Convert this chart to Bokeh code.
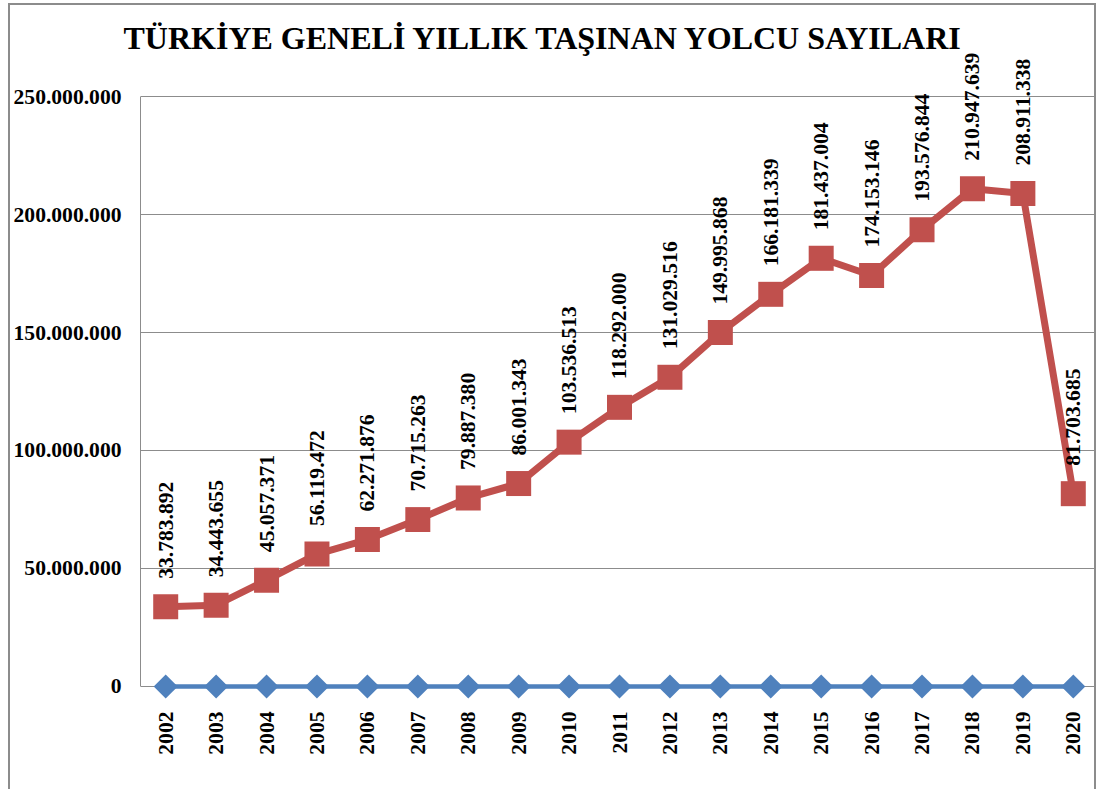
from math import pi
from bokeh.plotting import figure
from bokeh.models import Range1d, FixedTicker, ColumnDataSource, LabelSet
from bokeh.embed import file_html
from bokeh.resources import INLINE

years = ["2002", "2003", "2004", "2005", "2006", "2007", "2008", "2009", "2010", "2011",
         "2012", "2013", "2014", "2015", "2016", "2017", "2018", "2019", "2020"]
passengers = [33783892, 34443655, 45057371, 56119472, 62271876, 70715263, 79887380,
              86001343, 103536513, 118292000, 131029516, 149995868, 166181339,
              181437004, 174153146, 193576844, 210947639, 208911338, 81703685]
series2 = [0, 0, 0, 0, 0, 0, 0, 0, 0, 0, 0, 0, 0, 0, 0, 0, 0, 0, 0]
y_ticks = [0, 50000000, 100000000, 150000000, 200000000, 250000000]
title_text = "TÜRKİYE GENELİ YILLIK TAŞINAN YOLCU SAYILARI"

RED = "#C0504D"
BLUE = "#4F81BD"
GRID = "#8c8c8c"
FONT = "Liberation Serif"


def fmt(v):
    return f"{v:,}".replace(",", ".")


xs = list(range(len(years)))
src = ColumnDataSource(dict(x=xs, y=passengers, label=[fmt(v) for v in passengers],
                            z=series2))

p = figure(width=1088, height=786, output_backend="svg", toolbar_location=None,
           x_range=Range1d(-0.5, len(years) - 0.5),
           y_range=Range1d(-5510000, 269070000),
           min_border_left=127, min_border_right=0, min_border_top=46, min_border_bottom=92)
p.styles = {"margin-left": "8px", "margin-top": "3px",
            "border-left": "2px solid #8c8c8c", "border-top": "2px solid #8c8c8c",
            "border-right": "2px solid #8c8c8c"}
p.outline_line_color = None
p.background_fill_color = "white"
p.border_fill_color = "white"

p.title.text = title_text
p.title.align = "left"
p.title.offset = -17
p.title.standoff = -8
p.title.text_font = FONT
p.title.text_font_style = "bold"
p.title.text_font_size = "32px"
p.title.text_color = "black"

p.xgrid.visible = False
p.ygrid.ticker = FixedTicker(ticks=y_ticks)
p.ygrid.grid_line_color = GRID
p.ygrid.grid_line_width = 1

p.yaxis.ticker = FixedTicker(ticks=y_ticks)
p.yaxis.major_label_overrides = {t: fmt(t) for t in y_ticks}
p.yaxis.bounds = (y_ticks[0], y_ticks[-1])
p.yaxis.axis_line_color = GRID
p.yaxis.major_tick_line_color = None
p.yaxis.minor_tick_line_color = None
p.yaxis.major_label_standoff = 13
p.yaxis.major_label_text_font = FONT
p.yaxis.major_label_text_font_style = "bold"
p.yaxis.major_label_text_font_size = "21.6px"
p.yaxis.major_label_text_color = "black"

p.xaxis.ticker = FixedTicker(ticks=xs)
p.xaxis.major_label_overrides = {i: y for i, y in zip(xs, years)}
p.xaxis.major_label_orientation = pi / 2
p.xaxis.axis_line_color = None
p.xaxis.major_tick_line_color = None
p.xaxis.minor_tick_line_color = None
p.xaxis.major_label_standoff = 6
p.xaxis.major_label_text_font = FONT
p.xaxis.major_label_text_font_style = "bold"
p.xaxis.major_label_text_font_size = "21.6px"
p.xaxis.major_label_text_color = "black"

# series at zero (blue)
p.line("x", "z", source=src, line_color=BLUE, line_width=4.5)
p.scatter("x", "z", source=src, marker="square", size=17, angle=pi / 4,
          fill_color=BLUE, line_color=None)

# passengers (red)
p.line("x", "y", source=src, line_color=RED, line_width=7)
p.scatter("x", "y", source=src, marker="square", size=25,
          fill_color=RED, line_color=None)

labels = LabelSet(x="x", y="y", text="label", source=src, angle=pi / 2,
                  y_offset=28, text_align="left", text_baseline="middle",
                  text_font=FONT, text_font_style="bold", text_font_size="21.6px",
                  text_color="black")
p.add_layout(labels)

open("out.html", "w").write(file_html(p, INLINE))
